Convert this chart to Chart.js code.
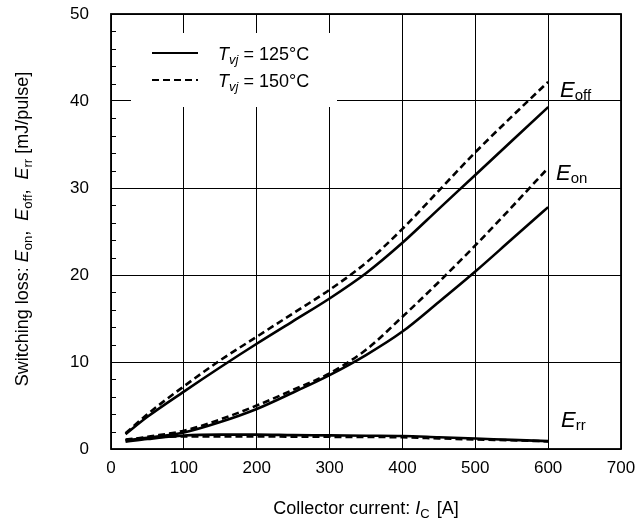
<!DOCTYPE html>
<html>
<head>
<meta charset="utf-8">
<script src="https://cdn.jsdelivr.net/npm/chart.js@4/dist/chart.umd.min.js"></script>
<style>
  html, body { margin: 0; padding: 0; background: #fff; }
  #wrap { width: 637px; height: 529px; }
</style>
</head>
<body>
<div id="wrap"><canvas id="myChart"></canvas></div>
<script>
// collector current [A]
var currents = [20, 50, 100, 150, 200, 250, 300, 350, 400, 450, 500, 550, 600];

// switching losses [mJ/pulse]
var eoff125 = [1.7, 3.7, 6.6, 9.4, 12.1, 14.7, 17.3, 20.2, 23.7, 27.6, 31.5, 35.4, 39.3];
var eoff150 = [1.8, 4.0, 7.2, 10.2, 12.9, 15.6, 18.3, 21.4, 25.3, 29.7, 34.1, 38.2, 42.2];
var eon125  = [1.0, 1.3, 1.9, 3.1, 4.6, 6.5, 8.5, 10.8, 13.5, 16.9, 20.4, 24.1, 27.8];
var eon150  = [1.0, 1.4, 2.1, 3.4, 5.0, 6.8, 8.7, 11.4, 15.2, 19.2, 23.4, 27.8, 32.3];
var err125  = [0.85, 1.15, 1.55, 1.65, 1.65, 1.6, 1.57, 1.53, 1.5, 1.35, 1.2, 1.05, 0.9];
var err150  = [1.1, 1.3, 1.45, 1.45, 1.45, 1.42, 1.4, 1.38, 1.35, 1.22, 1.1, 1.0, 0.88];

var xTicks = [0, 100, 200, 300, 400, 500, 600, 700];
var yTicks = [0, 10, 20, 30, 40, 50];

var FONT = '"Liberation Sans", Arial, sans-serif';

function pts(vals) {
  return currents.map(function(c, i){ return {x: c, y: vals[i]}; });
}

function line(label, vals, dashed) {
  return {
    label: label,
    data: pts(vals),
    borderColor: '#000',
    borderWidth: 2.6,
    borderDash: dashed ? [7, 4] : [],
    pointRadius: 0,
    fill: false,
    cubicInterpolationMode: 'monotone'
  };
}

// draws a run of text pieces: {t, it, size, dy}
function rich(ctx, x, y, parts, measureOnly) {
  var w = 0;
  parts.forEach(function(p){
    ctx.font = (p.it ? 'italic ' : '') + p.size + 'px ' + FONT;
    if (!measureOnly) ctx.fillText(p.t, x + w, y + (p.dy || 0));
    w += ctx.measureText(p.t).width + (p.gap || 0);
  });
  return w;
}

var extras = {
  id: 'extras',
  beforeDatasetsDraw: function(chart) {
    var ctx = chart.ctx;
    ctx.save();
    // legend box
    ctx.fillStyle = '#fff';
    ctx.fillRect(131, 33, 206, 74);
    ctx.strokeStyle = '#000';
    ctx.lineWidth = 2.2;
    ctx.beginPath(); ctx.moveTo(152, 53); ctx.lineTo(198, 53); ctx.stroke();
    ctx.setLineDash([7, 4]);
    ctx.beginPath(); ctx.moveTo(152, 80); ctx.lineTo(198, 80); ctx.stroke();
    ctx.setLineDash([]);
    ctx.fillStyle = '#000';
    ctx.textBaseline = 'alphabetic';
    ctx.textAlign = 'left';
    rich(ctx, 218, 60, [{t:'T', it:true, size:18}, {t:'vj', it:true, size:13, dy:4}, {t:' = 125\u00B0C', size:18}]);
    rich(ctx, 218, 87, [{t:'T', it:true, size:18}, {t:'vj', it:true, size:13, dy:4}, {t:' = 150\u00B0C', size:18}]);
    ctx.restore();
  },
  afterDraw: function(chart) {
    var ctx = chart.ctx, a = chart.chartArea, ys = chart.scales.y;
    ctx.save();
    // minor ticks inside left edge
    ctx.strokeStyle = '#000';
    ctx.lineWidth = 1;
    for (var v = 2; v < 50; v += 2) {
      if (v % 10 === 0) continue;
      var py = Math.round(ys.getPixelForValue(v)) + 0.5;
      ctx.beginPath(); ctx.moveTo(a.left, py); ctx.lineTo(a.left + 5, py); ctx.stroke();
    }
    // frame
    ctx.lineWidth = 1.8;
    ctx.strokeRect(a.left, a.top, a.right - a.left, a.bottom - a.top);

    ctx.fillStyle = '#000';
    ctx.textBaseline = 'alphabetic';
    // curve labels
    rich(ctx, 560, 97, [{t:'E', it:true, size:22}, {t:'off', size:15, dy:3}]);
    rich(ctx, 556, 180, [{t:'E', it:true, size:22}, {t:'on', size:15, dy:3}]);
    rich(ctx, 561, 427, [{t:'E', it:true, size:22}, {t:'rr', size:15, dy:3}]);

    // x axis title
    var xt = [{t:'Collector current: ', size:18}, {t:'I', it:true, size:18}, {t:'C', size:13, dy:4, gap:2}, {t:' [A]', size:18}];
    var wx = rich(ctx, 0, 0, xt, true);
    rich(ctx, 366 - wx / 2, 514, xt);

    // y axis title
    var yt = [{t:'Switching loss: ', size:18}, {t:'E', it:true, size:18}, {t:'on', size:13, dy:4}, {t:',  ', size:18},
              {t:'E', it:true, size:18}, {t:'off', size:13, dy:4}, {t:',  ', size:18},
              {t:'E', it:true, size:18}, {t:'rr', size:13, dy:4}, {t:' [mJ/pulse]', size:18}];
    var wy = rich(ctx, 0, 0, yt, true);
    ctx.translate(28, 229);
    ctx.rotate(-Math.PI / 2);
    rich(ctx, -wy / 2, 0, yt);
    ctx.restore();
  }
};

var ctx1 = document.getElementById('myChart');
var myChart = new Chart(ctx1, {
  type: 'line',
  data: {
    datasets: [
      line('Eoff 125', eoff125, false),
      line('Eoff 150', eoff150, true),
      line('Eon 125', eon125, false),
      line('Eon 150', eon150, true),
      line('Err 125', err125, false),
      line('Err 150', err150, true)
    ]
  },
  options: {
    responsive: true,
    maintainAspectRatio: false,
    animation: false,
    layout: { autoPadding: false, padding: { left: 0, top: 14, right: 16, bottom: 0 } },
    plugins: { legend: { display: false }, tooltip: { enabled: false } },
    scales: {
      x: {
        type: 'linear', min: 0, max: 700,
        afterBuildTicks: function(s){ s.ticks = xTicks.map(function(v){ return {value: v}; }); },
        afterFit: function(s){ s.height = 80; },
        // tick gap made with invisible tick marks, tick padding adds to layout margins
        grid: { color: '#000', lineWidth: 1, drawTicks: true, tickLength: 9, tickColor: 'rgba(0,0,0,0)' },
        border: { display: false },
        ticks: { color: '#000', font: { family: FONT, size: 17 }, padding: 0, maxRotation: 0 }
      },
      y: {
        min: 0, max: 50,
        afterBuildTicks: function(s){ s.ticks = yTicks.map(function(v){ return {value: v}; }); },
        afterFit: function(s){ s.width = 111; },
        grid: { color: '#000', lineWidth: 1, drawTicks: true, tickLength: 22, tickColor: 'rgba(0,0,0,0)' },
        border: { display: false },
        ticks: { color: '#000', font: { family: FONT, size: 17 }, padding: 0 }
      }
    }
  },
  plugins: [extras]
});
</script>
</body>
</html>
